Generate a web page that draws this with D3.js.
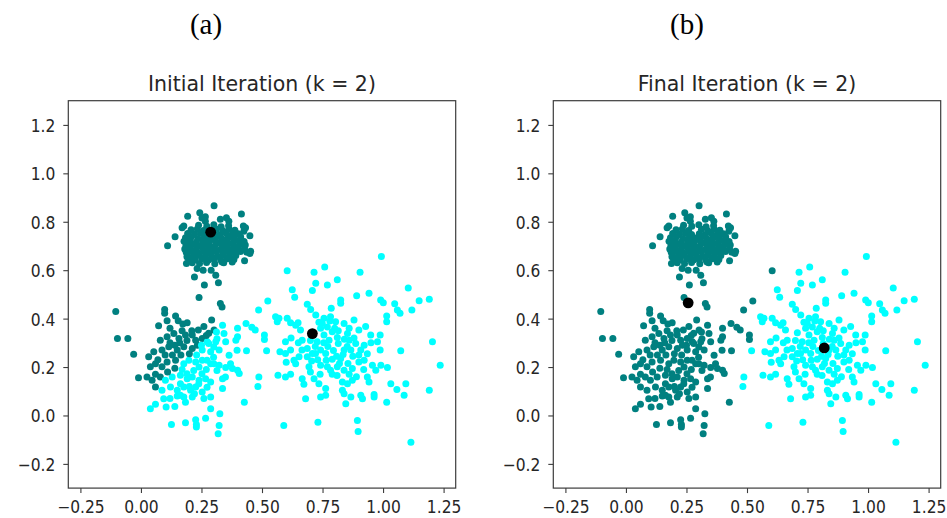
<!DOCTYPE html>
<html>
<head>
<meta charset="utf-8">
<script src="https://cdn.jsdelivr.net/npm/d3@7"></script>
<style>
  html, body { margin: 0; padding: 0; background: #fff; }
  svg { display: block; }
</style>
</head>
<body>
<svg id="chart" width="947" height="518"></svg>
<script>
// ---- data -------------------------------------------------------------
const xTicks = [-0.25, 0, 0.25, 0.5, 0.75, 1.0, 1.25];
const yTicks = [-0.2, 0, 0.2, 0.4, 0.6, 0.8, 1.0, 1.2];

const panelTags = ["(a)", "(b)"];
const panelTitles = ["Initial Iteration (k = 2)", "Final Iteration (k = 2)"];

// centroid positions: first one is cluster 0 (teal), second cluster 1 (cyan)
const initialCentroids = [[0.288, 0.757], [0.708, 0.338]];
const finalCentroids = [[0.257, 0.465], [0.819, 0.279]];

const clusterColors = ["#008080", "#00ffff"];

// tight blob, upper left
const upperBlob = [
  [0.302,0.866],[0.243,0.837],[0.193,0.823],[0.415,0.832],[0.353,0.817],[0.328,0.810],
  [0.266,0.821],[0.177,0.782],[0.141,0.738],[0.110,0.701],[0.423,0.782],[0.450,0.742],
  [0.425,0.761],[0.450,0.669],[0.428,0.639],[0.377,0.634],[0.335,0.634],[0.190,0.655],
  [0.188,0.628],[0.232,0.607],[0.257,0.600],[0.290,0.600],[0.309,0.579],[0.221,0.572],
  [0.320,0.548],[0.262,0.539],[0.240,0.487],[0.328,0.462],[0.335,0.448],[0.252,0.816],
  [0.266,0.802],[0.363,0.802],[0.432,0.775],[0.453,0.678],[0.170,0.775],
  [0.238,0.786],[0.272,0.781],[0.301,0.788],[0.331,0.779],[0.362,0.784],
  [0.207,0.767],[0.233,0.770],[0.259,0.764],[0.312,0.769],[0.338,0.763],[0.364,0.770],[0.388,0.765],
  [0.193,0.752],[0.221,0.748],[0.246,0.754],[0.271,0.747],[0.303,0.751],[0.326,0.746],[0.352,0.753],[0.377,0.748],[0.402,0.751],
  [0.184,0.734],[0.209,0.738],[0.236,0.731],[0.262,0.736],[0.286,0.733],[0.311,0.738],[0.334,0.731],[0.361,0.736],[0.386,0.733],[0.412,0.737],
  [0.178,0.719],[0.203,0.722],[0.229,0.716],[0.256,0.721],[0.281,0.718],[0.306,0.723],[0.331,0.717],[0.354,0.721],[0.381,0.716],[0.404,0.722],[0.426,0.718],
  [0.186,0.703],[0.212,0.707],[0.237,0.702],[0.261,0.706],[0.284,0.701],[0.309,0.707],[0.336,0.703],[0.359,0.706],[0.384,0.702],[0.409,0.707],[0.431,0.704],
  [0.181,0.688],[0.204,0.691],[0.228,0.686],[0.254,0.692],[0.279,0.687],[0.304,0.691],[0.329,0.686],[0.356,0.692],[0.379,0.688],[0.403,0.691],[0.428,0.686],
  [0.187,0.674],[0.211,0.677],[0.236,0.672],[0.262,0.676],[0.286,0.673],[0.311,0.678],[0.337,0.672],[0.361,0.676],[0.386,0.673],[0.411,0.677],[0.437,0.674],
  [0.192,0.661],[0.216,0.658],[0.241,0.662],[0.266,0.657],[0.291,0.662],[0.316,0.658],[0.341,0.662],[0.366,0.657],[0.392,0.661],
  [0.197,0.646],[0.224,0.643],[0.251,0.647],[0.279,0.642],[0.301,0.646],[0.329,0.643],[0.356,0.647],[0.384,0.644],
  [0.212,0.631],[0.242,0.628],[0.271,0.632],[0.305,0.627],[0.342,0.631]
];

// looser group, lower left
const lowerGroup = [
  [-0.104,0.429],[0.098,0.438],[0.098,0.422],[0.108,0.391],[0.143,0.411],[0.154,0.391],[0.173,0.378],[0.073,0.371],[0.191,0.383],
  [0.292,0.394],[0.260,0.367],[0.237,0.353],[0.302,0.353],[0.337,0.373],[0.343,0.339],[0.399,0.360],[0.434,0.380],[0.458,0.364],[0.472,0.353],
  [0.080,0.311],[0.108,0.325],[0.136,0.339],[0.157,0.318],[0.184,0.332],[0.212,0.332],[0.226,0.311],[0.253,0.318],[0.274,0.304],[0.309,0.304],
  [0.350,0.304],[0.392,0.311],[0.399,0.325],[0.510,0.332],[0.510,0.314],[-0.097,0.318],[-0.054,0.318],
  [-0.030,0.253],[0.032,0.242],[0.053,0.263],[0.087,0.270],[0.115,0.284],[0.150,0.270],[0.177,0.284],[0.212,0.277],[0.233,0.290],[0.253,0.270],
  [0.288,0.263],[0.323,0.270],[0.364,0.249],[0.436,0.267],
  [0.039,0.201],[0.060,0.214],[0.087,0.201],[0.108,0.221],[0.143,0.228],[0.177,0.214],[0.198,0.228],[0.226,0.221],[0.253,0.228],[0.288,0.214],
  [0.323,0.207],[0.350,0.198],[0.378,0.194],[0.399,0.187],[0.406,0.173],
  [-0.010,0.156],[0.025,0.159],[0.046,0.145],[0.080,0.159],[0.101,0.145],[0.129,0.159],[0.163,0.166],[0.191,0.152],[0.212,0.159],[0.240,0.145],
  [0.267,0.152],[0.288,0.138],[0.337,0.152],
  [0.060,0.118],[0.087,0.104],[0.122,0.118],[0.150,0.104],[0.177,0.118],[0.205,0.104],[0.226,0.118],[0.253,0.097],[0.288,0.076],[0.337,0.111],
  [0.094,0.069],[0.177,0.076],[0.212,0.076],
  [0.039,0.028],[0.060,0.046],[0.104,0.035],[0.140,0.037],[0.184,0.055],[0.288,0.028],[0.326,0.007],[0.427,0.055],
  [0.126,-0.037],[0.184,-0.030],[0.226,-0.018],[0.229,-0.037],[0.229,-0.048],[0.267,-0.011],[0.323,-0.041],[0.319,-0.076],
  [0.524,0.473],[0.486,0.436],
  [0.163,0.083],[0.221,0.090],[0.273,0.117],[0.239,0.131],[0.163,0.131],[0.190,0.172],[0.218,0.186],[0.252,0.172],[0.314,0.186],
  [0.349,0.159],[0.370,0.214],[0.301,0.214],[0.273,0.228],[0.280,0.297],[0.301,0.283],[0.314,0.317],[0.312,0.345],[0.397,0.269],
  [0.120,0.300],[0.140,0.290],[0.160,0.300],[0.190,0.310],[0.130,0.250],[0.165,0.250],[0.200,0.255],[0.100,0.250],[0.070,0.230],
  [0.060,0.170],[0.110,0.180],[0.140,0.195],[0.170,0.190],[0.230,0.250],[0.250,0.290],[0.270,0.330],[0.210,0.350],[0.170,0.350],
  [0.120,0.360],[0.240,0.200],[0.270,0.190],[0.200,0.120],[0.150,0.080],[0.120,0.070],[0.260,0.070],[0.300,0.240],[0.280,0.340]
];

// wide spread, right
const rightSpread = [
  [0.993,0.657],[0.604,0.598],[0.759,0.613],[0.715,0.591],[0.905,0.591],[0.811,0.560],[0.722,0.546],[0.770,0.539],[0.625,0.519],
  [0.635,0.488],[0.708,0.516],[0.825,0.477],[0.825,0.463],[0.891,0.494],[0.942,0.505],[0.990,0.477],[1.001,0.466],[1.104,0.526],
  [1.149,0.474],[1.191,0.480],[1.119,0.436],[1.048,0.461],[1.059,0.436],[1.070,0.422],[0.687,0.459],[0.701,0.438],[0.786,0.443],
  [1.015,0.411],[1.015,0.387],[0.556,0.408],[0.563,0.387],[0.570,0.401],[0.604,0.401],[0.618,0.383],[0.639,0.373],[0.659,0.353],
  [0.649,0.383],[0.722,0.415],[0.756,0.401],[0.783,0.408],[0.804,0.387],[0.839,0.380],[0.880,0.394],[0.900,0.353],[0.928,0.367],
  [0.949,0.332],[0.988,0.332],[1.204,0.304],[1.236,0.207],[1.073,0.267],[0.519,0.267],[0.574,0.263],[0.597,0.256],[0.618,0.270],
  [0.597,0.304],[0.666,0.311],[0.708,0.342],[0.749,0.380],[0.742,0.360],[0.756,0.332],[0.790,0.346],[0.777,0.311],[0.811,0.322],
  [0.853,0.339],[0.860,0.311],[0.887,0.297],[0.922,0.290],[0.908,0.270],[0.977,0.304],[0.988,0.270],[0.728,0.304],[0.742,0.270],
  [0.763,0.256],[0.721,0.256],[0.687,0.277],[0.708,0.256],[0.687,0.242],[0.653,0.242],[0.632,0.228],[0.639,0.214],[0.694,0.201],
  [0.742,0.207],[0.770,0.201],[0.783,0.187],[0.825,0.235],[0.839,0.270],[0.867,0.270],[0.811,0.201],[0.839,0.187],[0.873,0.194],
  [0.900,0.221],[0.922,0.228],[0.956,0.207],[0.970,0.187],[0.991,0.207],[1.018,0.198],[0.935,0.159],[0.942,0.138],[0.566,0.166],
  [0.597,0.159],[0.618,0.170],[0.487,0.159],[0.483,0.120],[0.666,0.152],[0.673,0.129],[0.715,0.152],[0.735,0.131],[0.763,0.111],
  [0.742,0.076],[0.763,0.083],[0.680,0.069],[0.832,0.138],[0.853,0.131],[0.873,0.145],[0.832,0.104],[0.839,0.090],[0.867,0.076],
  [0.908,0.083],[0.915,0.069],[0.963,0.087],[0.963,0.076],[1.032,0.131],[1.057,0.107],[1.094,0.131],[1.087,0.083],[1.015,0.055],
  [1.191,0.104],[1.115,-0.111],[0.846,0.048],[0.894,-0.021],[0.897,-0.066],[0.731,-0.028],[0.590,-0.041],
  [0.772,0.285],[0.795,0.268],[0.815,0.297],[0.835,0.252],[0.852,0.285],[0.790,0.232],[0.808,0.245],[0.765,0.228],[0.875,0.245],
  [0.880,0.320],[0.840,0.315],[0.800,0.360],[0.770,0.365],[0.735,0.385],[0.720,0.285],[0.700,0.310],[0.755,0.300],[0.820,0.215],
  [0.855,0.215],[0.790,0.170],[0.810,0.165],[0.860,0.170],[0.900,0.250],[0.935,0.255],[0.950,0.300],[0.860,0.360],[0.815,0.350],
  [0.780,0.390],[0.730,0.230],[0.705,0.225],[0.665,0.270],[0.650,0.300],[0.620,0.320],[0.600,0.220],[0.890,0.160],[0.920,0.190],
  [0.740,0.170],[0.700,0.180]
];

// ---- layout -----------------------------------------------------------
const domain = [-0.3, 1.3];
const plotSize = 387.4;
const plotTop = 100.7;
const panels = [
  { left: 68.3, tagX: 206, centroids: initialCentroids, title: panelTitles[0], tag: panelTags[0] },
  { left: 553.3, tagX: 687, centroids: finalCentroids, title: panelTitles[1], tag: panelTags[1] }
];

const points = upperBlob.concat(lowerGroup, rightSpread);

// index of the closest centroid to a point
function nearest(p, cents) {
  let best = 0, bestD = Infinity;
  cents.forEach((c, i) => {
    const d = (p[0] - c[0]) ** 2 + (p[1] - c[1]) ** 2;
    if (d < bestD) { bestD = d; best = i; }
  });
  return best;
}

const svg = d3.select("#chart");
svg.append("rect").attr("width", 947).attr("height", 518).attr("fill", "#fff");

const axisColor = "#3c3c3c";
const textColor = "#262626";
const sans = "'DejaVu Sans', sans-serif";

panels.forEach(pn => {
  const x = d3.scaleLinear().domain(domain).range([pn.left, pn.left + plotSize]);
  const y = d3.scaleLinear().domain(domain).range([plotTop + plotSize, plotTop]);
  const g = svg.append("g");

  // panel tag above
  svg.append("text")
    .attr("x", pn.tagX).attr("y", 34)
    .attr("text-anchor", "middle")
    .style("font-family", "'Liberation Serif', 'Times New Roman', serif")
    .style("font-size", "29px")
    .attr("fill", "#000")
    .text(pn.tag);

  // title
  g.append("text")
    .attr("x", pn.left + plotSize / 2).attr("y", 91)
    .attr("text-anchor", "middle")
    .style("font-family", sans)
    .style("font-size", "20.5px")
    .attr("fill", textColor)
    .text(pn.title);

  // points
  g.append("g").selectAll("circle")
    .data(points)
    .join("circle")
    .attr("cx", d => x(d[0]))
    .attr("cy", d => y(d[1]))
    .attr("r", 3.5)
    .attr("fill", d => clusterColors[nearest(d, pn.centroids)]);

  // centroids
  g.append("g").selectAll("circle")
    .data(pn.centroids)
    .join("circle")
    .attr("cx", d => x(d[0]))
    .attr("cy", d => y(d[1]))
    .attr("r", 5.4)
    .attr("fill", "#000");

  // axes
  const xAxis = d3.axisBottom(x).tickValues(xTicks).tickFormat(d3.format(".2f"))
    .tickSize(5).tickSizeOuter(0);
  const yAxis = d3.axisLeft(y).tickValues(yTicks).tickFormat(d3.format(".1f"))
    .tickSize(5).tickSizeOuter(0);

  const gx = g.append("g").attr("transform", `translate(0,${plotTop + plotSize})`).call(xAxis);
  const gy = g.append("g").attr("transform", `translate(${pn.left},0)`).call(yAxis);

  [gx, gy].forEach(a => {
    a.select(".domain").remove();
    a.selectAll(".tick line").attr("stroke", axisColor).attr("stroke-width", 1.1);
    a.selectAll(".tick text")
      .attr("fill", textColor)
      .style("font-family", sans)
      .style("font-size", "15.5px");
  });
  gx.selectAll(".tick text")
    .attr("y", null).attr("dy", null)
    .attr("transform", "translate(0,25) scale(1,1.1)");
  gy.selectAll(".tick text")
    .attr("x", null).attr("dy", null)
    .attr("transform", "translate(-13,6.4) scale(1,1.15)");

  // frame
  g.append("rect")
    .attr("x", pn.left).attr("y", plotTop)
    .attr("width", plotSize).attr("height", plotSize)
    .attr("fill", "none")
    .attr("stroke", axisColor)
    .attr("stroke-width", 1.2);
});
</script>
</body>
</html>
